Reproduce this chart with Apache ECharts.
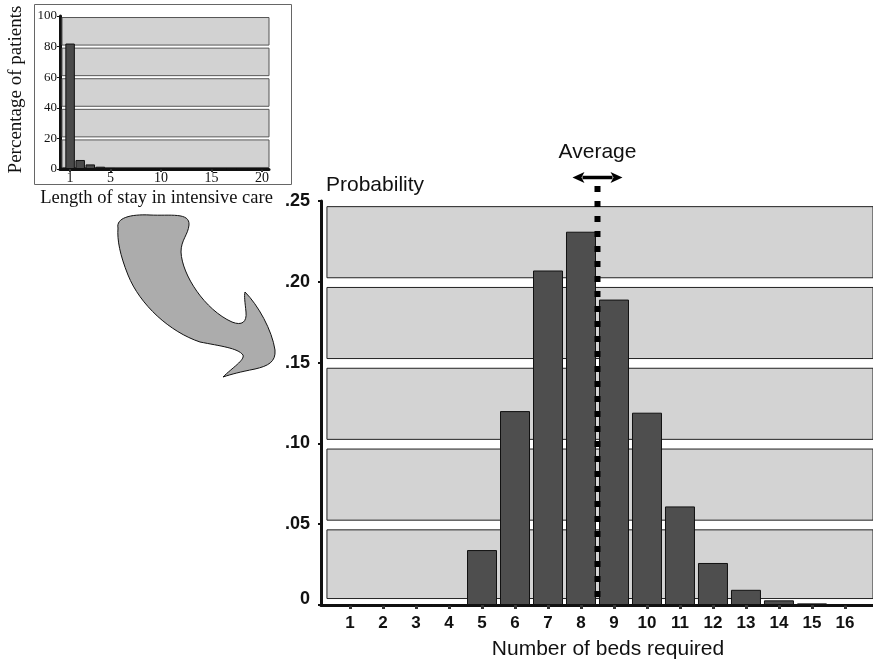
<!DOCTYPE html>
<html>
<head>
<meta charset="utf-8">
<script src="https://cdn.jsdelivr.net/npm/echarts@6/dist/echarts.min.js"></script>
<style>html,body{margin:0;padding:0;background:#fff}#c{width:873px;height:665px}</style>
</head>
<body>
<div id="c"></div>
<script>
// Main chart data
const beds = [1,2,3,4,5,6,7,8,9,10,11,12,13,14,15,16];
const bedProb = [0,0,0,0,0.034,0.120,0.207,0.231,0.189,0.119,0.061,0.026,0.0094,0.0029,0.001,0.0002];
const avgBeds = 8.5;
const probTicks = [0,0.05,0.10,0.15,0.20,0.25];
// Inset data
const stayDays = [1,2,3,4,5,6,7,8,9,10,11,12,13,14,15,16,17,18,19,20];
const stayPct = [82,5.9,3.0,1.5,0.7,0.4,0.3,0.3,0.3,0.3,0.3,0.3,0.3,0.3,0.3,0,0,0,0,0];
const stayLabels = [1,5,10,15,20];
const pctTicks = [0,20,40,60,80,100];

const SANS = 'Liberation Sans, Arial, sans-serif';
const SERIF = 'Liberation Serif, Times New Roman, serif';

function bands(edges, x0, x1, gapLo, gapHi, firstLo){
  const out = [];
  for (let i = 0; i < edges.length - 1; i++) {
    const lo = edges[i] + (i === 0 ? firstLo : gapLo);
    const hi = edges[i+1] - gapHi;
    out.push([{coord:[x0, lo]}, {coord:[x1, hi]}]);
  }
  return out;
}

const blobPath =
  'M118 228 C116 218 130 214 150 215 C170 216 190 212 189 225 C188 235 181 240 181 252 ' +
  'C182 275 205 310 232 322 C242 326 247 322 246 312 C245 302 244 296 245 292 ' +
  'C258 305 272 330 275 350 C276 362 268 366 255 369 C240 372 232 374 223 377 ' +
  'C232 368 245 360 243 355 C238 348 220 346 200 342 C170 332 140 305 128 275 ' +
  'C120 255 117 240 118 228 Z';
echarts.graphic.registerShape('curvedArrow', echarts.graphic.extendPath(blobPath, {}));

const X_MIN = 0.12, X_MAX = 16.85;

const chart = echarts.init(document.getElementById('c'), null, {renderer:'canvas'});
const option = {
  animation: false,
  grid: [
    {left:321, right:0, top:201, bottom:59},
    {left:60, right:604, top:16, bottom:496}
  ],
  xAxis: [
    {
      type:'value', gridIndex:0, min:X_MIN, max:X_MAX,
      axisLine:{lineStyle:{color:'#111', width:3}},
      axisTick:{customValues:beds, length:4, lineStyle:{color:'#333', width:3}},
      axisLabel:{customValues:beds, color:'#111', fontFamily:SANS, fontWeight:'bold', fontSize:17, margin:10},
      splitLine:{show:false},
      name:'Number of beds required', nameLocation:'middle', nameGap:34,
      nameTextStyle:{fontFamily:SANS, fontSize:21, color:'#111', padding:[0,0,0,22]}
    },
    {
      type:'value', gridIndex:1, min:0, max:20.7,
      axisLine:{lineStyle:{color:'#111', width:3}},
      axisTick:{customValues:stayLabels, length:3, lineStyle:{color:'#333', width:2}},
      axisLabel:{customValues:stayLabels, color:'#111', fontFamily:SERIF, fontSize:14, margin:2},
      splitLine:{show:false},
      name:'Length of stay in intensive care', nameLocation:'middle', nameGap:20,
      nameTextStyle:{fontFamily:SERIF, fontSize:18.5, color:'#111', padding:[0,16,0,0]}
    }
  ],
  yAxis: [
    {
      type:'value', gridIndex:0, min:0, max:0.25, interval:0.05,
      axisLine:{show:true, lineStyle:{color:'#111', width:3}},
      axisTick:{show:true, length:3, lineStyle:{color:'#111', width:2}},
      axisLabel:{
        color:'#111', fontFamily:SANS, fontWeight:'bold', fontSize:18, margin:11,
        formatter: v => v === 0 ? '{z|0}' : '.' + String(Math.round(v*100)).padStart(2,'0'),
        rich:{z:{fontFamily:SANS, fontWeight:'bold', fontSize:18, color:'#111', padding:[0,0,12,0]}}
      },
      splitLine:{show:false},
      name:'Probability', nameLocation:'end', nameGap:5,
      nameTextStyle:{fontFamily:SANS, fontSize:21, color:'#111', align:'left', padding:[0,0,0,5]}
    },
    {
      type:'value', gridIndex:1, min:0, max:100, interval:20,
      axisLine:{show:true, lineStyle:{color:'#111', width:3}},
      axisTick:{show:true, length:3, lineStyle:{color:'#111', width:1}},
      axisLabel:{color:'#111', fontFamily:SERIF, fontSize:13, margin:3},
      splitLine:{show:false},
      name:'Percentage of patients', nameLocation:'middle', nameGap:34, nameRotate:90,
      nameTextStyle:{fontFamily:SERIF, fontSize:19, color:'#111', padding:[0,0,0,6]}
    }
  ],
  series: [
    {
      type:'line', xAxisIndex:0, yAxisIndex:0, data:[], z:1, silent:true,
      markArea:{silent:true,
        itemStyle:{color:'#d3d3d3', borderColor:'#222', borderWidth:1},
        data: bands(probTicks, 0.3, X_MAX, 0.0025, 0.0035, 0.004)}
    },
    {
      type:'bar', xAxisIndex:0, yAxisIndex:0, z:3, barWidth:30,
      data: beds.map((b,i)=>[b, bedProb[i]]),
      itemStyle:{color:'#4e4e4e', borderColor:'#111', borderWidth:1}
    },
    {
      type:'line', xAxisIndex:0, yAxisIndex:0, z:5, clip:false, symbol:'none', silent:true,
      data:[[avgBeds,0.2593],[avgBeds,0]],
      lineStyle:{color:'#000', width:6, type:[6,9], cap:'butt'}
    },
    {
      type:'line', xAxisIndex:1, yAxisIndex:1, data:[], z:1, silent:true,
      markArea:{silent:true,
        itemStyle:{color:'#d2d2d2', borderColor:'#555', borderWidth:1},
        data: bands(pctTicks, 0.2, 20.7, 1.0, 1.0, 1.0)}
    },
    {
      type:'bar', xAxisIndex:1, yAxisIndex:1, z:3, barWidth:9.5,
      data: stayDays.map((d,i)=>[d, stayPct[i]]),
      itemStyle:{color:'#4a4a4a', borderColor:'#111', borderWidth:1}
    }
  ]
};
chart.setOption(option);
const p = chart.convertToPixel({xAxisIndex:0, yAxisIndex:0}, [avgBeds, 0.25]);
const cx = p[0], ay = p[1] - 23.5;
const half = 25, head = 12, hh = 5.5;
chart.setOption({graphic: [
  {type:'rect', z:0, shape:{x:34.5, y:4.5, width:257, height:180}, style:{fill:'none', stroke:'#666', lineWidth:1}},
  {type:'curvedArrow', z:10, style:{fill:'#acacac', stroke:'#111', lineWidth:1}},
  {type:'text', z:10, x:cx, y:152, style:{text:'Average', fontFamily:SANS, fontSize:21, fill:'#111', align:'center', verticalAlign:'middle'}},
  {type:'line', z:10, shape:{x1:cx-half+head-2, y1:ay, x2:cx+half-head+2, y2:ay}, style:{stroke:'#000', lineWidth:3.5}},
  {type:'polygon', z:10, shape:{points:[[cx-half,ay],[cx-half+head,ay-hh],[cx-half+head-3,ay],[cx-half+head,ay+hh]]}, style:{fill:'#000'}},
  {type:'polygon', z:10, shape:{points:[[cx+half,ay],[cx+half-head,ay-hh],[cx+half-head+3,ay],[cx+half-head,ay+hh]]}, style:{fill:'#000'}}
]});
</script>
</body>
</html>
